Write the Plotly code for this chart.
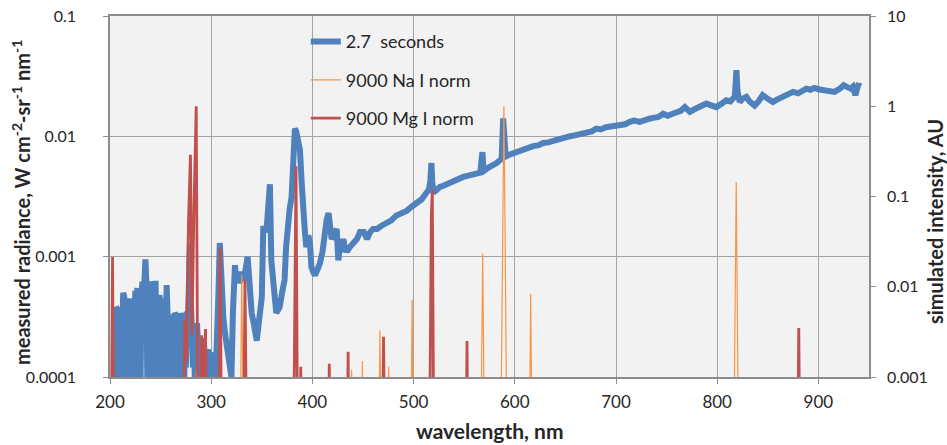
import plotly.graph_objects as go

# ---- measured spectrum (left axis) ----
blue_wl = [203, 205, 206, 207, 208, 209, 210, 211, 212, 213, 214, 215, 216, 217, 218, 219, 220,
           221, 222, 223, 224, 225, 226, 227, 228, 229, 230, 231, 232, 233, 234, 235, 236, 237,
           238, 239, 240, 241, 242, 243, 244, 245, 246, 247, 248, 249, 250, 251, 252, 253, 254,
           255, 256, 257, 258, 259, 260, 261, 262, 263, 264, 265, 266, 267, 268, 269, 270, 271,
           272, 273, 274, 275, 276, 277, 278, 279, 280, 281, 282, 283, 284, 285, 286, 287, 288,
           289, 290, 291, 292, 293, 294, 295, 296, 297, 298, 299, 300, 301, 302, 303, 304, 305,
           306, 307, 308.5, 310, 312, 314, 316, 318, 320, 321.5, 323.5, 325, 326.6, 328, 330,
           331.6, 333, 336, 338, 340, 342, 343, 345, 347, 348.5, 350, 351.5, 353, 355, 356.5,
           358, 359.4, 361, 362.6, 364.3, 366, 367.6, 370, 372.5, 374, 375.5, 377.5, 379.4,
           381, 382.7, 384, 385.5, 387.7, 389.5, 391, 392.6, 394, 396, 397.6, 399, 401, 402.5,
           405, 407.4, 410, 412, 414, 416, 417.5, 419, 421, 424, 425.6, 427, 428.5, 430.5, 432,
           434, 437, 440.6, 444, 447, 450.8, 454, 457, 460, 464, 468, 473.6, 478, 483, 488, 493,
           498, 503, 508, 512.7, 515, 516.5, 517.6, 518.5, 519.5, 523, 526, 530, 535, 540, 545,
           549, 553, 557, 561, 564, 566, 567, 568, 569, 570, 574, 578, 582, 585, 587, 588.5,
           589.5, 591, 594, 598, 603, 608, 613, 618, 623, 628, 633, 638, 643, 647.6, 652, 657,
           662, 667, 672, 676, 680.6, 685, 690, 695, 700, 705, 709, 713.6, 718, 723.5, 728, 733,
           738, 742, 746.5, 751, 756, 760, 764, 768, 773, 777, 781, 785, 789.3, 794, 799, 804,
           809, 813, 817.3, 818.3, 819, 820, 822.2, 825, 828.8, 832, 837, 841, 845, 850, 855,
           860, 865, 870, 875, 880, 884, 888, 892, 896, 901.2, 906, 911, 916, 921, 925, 929,
           932, 934, 936.5, 939, 940, 940.2]
blue_val = [0.00005, 0.00022, 0.00038, 0.00037, 0.00005, 0.00026, 0.00035, 0.00006, 0.00045, 0.0005,
            0.00047, 0.00012, 0.00022, 0.00006, 0.0003, 0.00045, 0.00008, 0.0004, 0.00025, 0.00005,
            0.0004, 0.00052, 0.0003, 0.00055, 0.0001, 0.00035, 0.00006, 0.00045, 0.00062, 0.0004,
            0.0006, 0.00095, 0.0006, 0.00007, 0.0005, 0.0006, 0.00015, 0.00062, 0.00058, 0.00005,
            0.0005, 0.00063, 0.0002, 0.00045, 0.00008, 0.00048, 0.00035, 0.00006, 0.00042, 0.00045,
            0.00009, 0.00056, 0.00058, 0.0003, 0.00006, 0.0003, 0.00033, 0.00008, 0.0003, 0.00015,
            0.00034, 0.00033, 0.00007, 0.0002, 0.00033, 0.00006, 0.00034, 0.0003, 0.00018, 0.00005,
            0.00025, 0.00012, 0.00035, 0.00028, 0.0006, 0.0013, 0.0004, 0.0002, 0.00012, 0.00022,
            0.00008, 0.00016, 0.00028, 0.00018, 0.00012, 0.00009, 0.00016, 0.00021, 0.00011, 0.00018,
            0.00013, 0.00009, 0.00015, 0.00017, 0.00011, 0.00016, 0.00014, 0.00009, 0.00013, 0.00011,
            0.00008, 0.00012, 0.00018, 0.00045, 0.0013, 0.0005, 0.00031, 0.00022, 0.00017, 0.00012,
            0.0001, 0.00035, 0.00085, 0.0006, 0.00072, 0.0006, 0.00075, 0.00063, 0.0007, 0.001,
            0.00055, 0.00034, 0.00028, 0.00025, 0.0002, 0.00028, 0.00036, 0.00046, 0.0018, 0.0016,
            0.0018, 0.0025, 0.004, 0.00093, 0.0006, 0.0004, 0.00034, 0.00036, 0.00038, 0.0005,
            0.00064, 0.0012, 0.002, 0.0025, 0.0031, 0.006, 0.0116, 0.011, 0.0095, 0.0077, 0.004,
            0.0018, 0.0016, 0.0012, 0.0015, 0.0013, 0.00082, 0.00074, 0.0007, 0.00078, 0.00088,
            0.0011, 0.0016, 0.002, 0.0023, 0.0018, 0.0014, 0.0015, 0.0017, 0.00093, 0.0012,
            0.0011, 0.0014, 0.0012, 0.0011, 0.0012, 0.0013, 0.0014, 0.0016, 0.0016, 0.0014, 0.0016,
            0.0017, 0.0017, 0.0018, 0.0019, 0.002, 0.0022, 0.0023, 0.0024, 0.0026, 0.0028, 0.003,
            0.0034, 0.0036, 0.0042, 0.006, 0.0042, 0.0034, 0.0036, 0.0038, 0.0039, 0.0041, 0.0042,
            0.0044, 0.0046, 0.0047, 0.0048, 0.0049, 0.005, 0.005, 0.0062, 0.0074, 0.0055, 0.0052,
            0.0055, 0.0057, 0.006, 0.0063, 0.0065, 0.0141, 0.011, 0.0068, 0.007, 0.0072, 0.0074,
            0.0078, 0.0079, 0.0083, 0.0084, 0.0088, 0.0089, 0.0092, 0.0094, 0.0096, 0.0099, 0.0101,
            0.0103, 0.0104, 0.0108, 0.011, 0.0116, 0.0114, 0.0119, 0.0121, 0.0124, 0.0127, 0.0126,
            0.0132, 0.0135, 0.0132, 0.0137, 0.014, 0.0143, 0.0145, 0.0154, 0.0148, 0.0154, 0.0158,
            0.0163, 0.0175, 0.016, 0.0167, 0.0172, 0.0178, 0.0187, 0.0181, 0.0175, 0.0186, 0.0199,
            0.0195, 0.0213, 0.028, 0.0354, 0.024, 0.0193, 0.0205, 0.0213, 0.0195, 0.018, 0.0196,
            0.022, 0.0205, 0.0193, 0.0204, 0.0213, 0.0222, 0.0234, 0.0228, 0.024, 0.0249, 0.0244,
            0.0252, 0.0245, 0.0241, 0.0238, 0.0234, 0.0248, 0.0266, 0.0255, 0.0249, 0.0258, 0.022,
            0.0262, 0.0275, 0.0265, 0.00001]

# ---- simulated Na I lines (right axis) ----
na_wl = [282.5, 285.3, 288.0,
         327.5, 330.2, 333.0,
         437.0, 438.8, 440.5,
         448.0, 449.4, 451.0,
         464.5, 466.7, 469.0,
         474.0, 475.3, 477.0,
         496.5, 498.5, 500.5,
         565.5, 568.3, 571.0,
         585.0, 588.0, 589.2, 590.5, 593.0,
         613.5, 615.7, 618.0,
         815.5, 818.8, 822.0]
na_val = [0.00001, 0.0012, 0.00001,
          0.00001, 0.0134, 0.00001,
          0.00001, 0.0012, 0.00001,
          0.00001, 0.0015, 0.00001,
          0.00001, 0.0033, 0.00001,
          0.00001, 0.0013, 0.00001,
          0.00001, 0.0072, 0.00001,
          0.00001, 0.0233, 0.00001,
          0.00001, 0.03, 1.0, 0.03, 0.00001,
          0.00001, 0.0083, 0.00001,
          0.00001, 0.145, 0.00001]

# ---- simulated Mg I lines (right axis) ----
mg_wl = [200.5, 202.5, 204.5,
         272.0, 274.0, 275.5, 277.5, 279.5, 281.0, 283.0, 285.2, 287.5,
         289.0, 290.5, 292.0, 294.4, 296.0,
         306.5, 308.8, 311.0,
         331.0, 333.4, 336.0,
         380.5, 382.9, 383.8, 386.0,
         387.0, 388.5, 390.0,
         414.5, 416.7, 418.5,
         433.5, 435.3, 437.0,
         468.0, 470.3, 472.5,
         515.0, 517.5, 518.5, 520.5,
         551.0, 552.8, 554.5,
         878.5, 880.6, 882.5]
mg_val = [0.00001, 0.0214, 0.00001,
          0.00001, 0.0043, 0.0015, 0.05, 0.29, 0.003, 0.08, 1.0, 0.00001,
          0.00001, 0.0029, 0.0008, 0.0034, 0.00001,
          0.00001, 0.027, 0.00001,
          0.00001, 0.0117, 0.00001,
          0.00001, 0.1, 0.216, 0.00001,
          0.00001, 0.0013, 0.00001,
          0.00001, 0.0014, 0.00001,
          0.00001, 0.0019, 0.00001,
          0.00001, 0.0028, 0.00001,
          0.00001, 0.06, 0.117, 0.00001,
          0.00001, 0.0025, 0.00001,
          0.00001, 0.0035, 0.00001]

x_ticks = [200, 300, 400, 500, 600, 700, 800, 900]
left_ticks = [0.0001, 0.001, 0.01, 0.1]
left_labels = ["0.0001", "0.001", "0.01", "0.1"]
right_ticks = [0.001, 0.01, 0.1, 1, 10]
right_labels = ["0.001", "0.01", "0.1", "1", "10"]

FONT = "Lato, 'Open Sans', sans-serif"
TXT = "#262626"
GRID = "#a3a3a3"
AX = "#8c8c8c"

W, H = 947, 445
ML, MT = 110, 16
MR = W - 869
MB = H - 377
PW, PH = W - ML - MR, H - MT - MB

fig = go.Figure()
fig.add_trace(go.Scatter(x=blue_wl, y=blue_val, mode="lines", name="2.7\u00a0\u00a0seconds",
                         line=dict(color="#4f81bd", width=6), legendgroup="a", yaxis="y"))
fig.add_trace(go.Scatter(x=na_wl, y=na_val, mode="lines", name="9000 Na I norm",
                         line=dict(color="#f79646", width=1.2), legendgroup="b", yaxis="y2"))
fig.add_trace(go.Scatter(x=mg_wl, y=mg_val, mode="lines", name="9000 Mg I norm",
                         line=dict(color="#c0504d", width=2.8), legendgroup="c", yaxis="y2"))

fig.update_layout(
    width=W, height=H,
    margin=dict(l=ML, r=MR, t=MT, b=MB, autoexpand=False),
    paper_bgcolor="white", plot_bgcolor="#f2f2f2",
    font=dict(family=FONT, size=16, color=TXT),
    showlegend=True,
    legend=dict(x=0.258, y=0.98, xanchor="left", yanchor="top",
                bgcolor="rgba(0,0,0,0)", font=dict(size=18, color=TXT),
                tracegroupgap=12, itemwidth=30),
    xaxis=dict(range=[200, 950], tickvals=x_ticks, ticktext=[str(v) for v in x_ticks],
               showgrid=True, gridcolor=GRID, gridwidth=1.3, showline=True, linecolor=AX,
               linewidth=1.5, mirror=True, ticks="outside", ticklen=5, tickcolor=AX,
               zeroline=False, tickfont=dict(size=17, color=TXT), automargin=False,
               ticklabelstandoff=4),
    yaxis=dict(type="log", range=[-4, -1], tickvals=left_ticks, ticktext=left_labels,
               showgrid=True, gridcolor=GRID, gridwidth=1.3, showline=True, linecolor=AX,
               linewidth=1.5, ticks="outside", ticklen=5, tickcolor=AX, zeroline=False,
               tickfont=dict(size=16, color=TXT), automargin=False,
               ticklabelstandoff=24, ticklabeloverflow="allow"),
    yaxis2=dict(type="log", range=[-3, 1], tickvals=right_ticks, ticktext=right_labels,
                overlaying="y", side="right", showgrid=False, showline=True, linecolor=AX,
                linewidth=1.5, ticks="outside", ticklen=5, tickcolor=AX, zeroline=False,
                tickfont=dict(size=16, color=TXT), automargin=False,
                ticklabelstandoff=8, ticklabeloverflow="allow"),
)

# axis titles (positions given in window pixels, converted to paper fractions)
def px_x(px):
    return (px - ML) / PW

def px_y(py):
    return 1 - (py - MT) / PH

fig.add_annotation(text="<b>wavelength, nm</b>", xref="paper", yref="paper",
                   x=px_x(490), y=px_y(431), xanchor="center", yanchor="middle",
                   showarrow=False, font=dict(size=21, color=TXT))
fig.add_annotation(text="<b>measured radiance, W cm<sup>-2</sup>-sr<sup>-1</sup> nm<sup>-1</sup></b>",
                   xref="paper", yref="paper", x=px_x(21), y=px_y(203),
                   xanchor="center", yanchor="middle", textangle=-90, showarrow=False,
                   font=dict(size=20, color=TXT))
fig.add_annotation(text="<b>simulated intensity, AU</b>", xref="paper", yref="paper",
                   x=px_x(935), y=px_y(222), xanchor="center", yanchor="middle",
                   textangle=-90, showarrow=False, font=dict(size=20, color=TXT))

fig.write_html("out.html", config={"displayModeBar": False},
               post_script="document.body.style.margin='0';")
